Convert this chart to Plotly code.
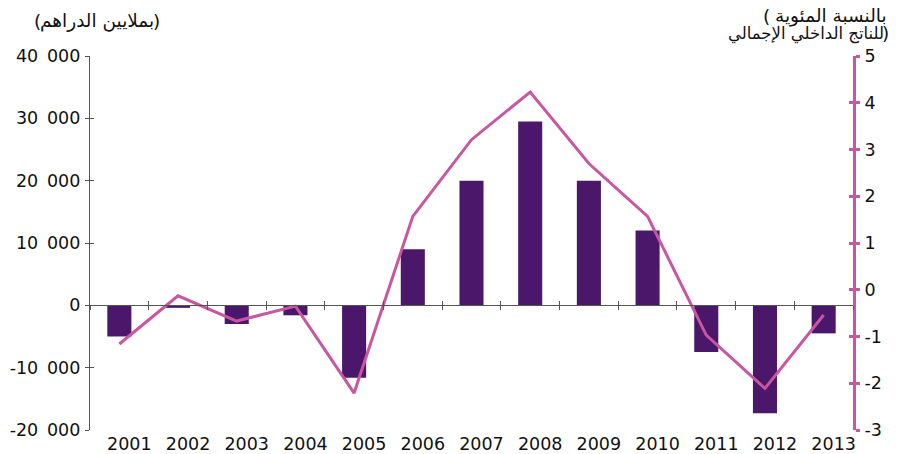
import plotly.graph_objects as go

years = ["2001", "2002", "2003", "2004", "2005", "2006", "2007",
         "2008", "2009", "2010", "2011", "2012", "2013"]
balance_mdh = [-5000, -400, -3000, -1600, -11600, 9000, 20000,
               29500, 20000, 12000, -7500, -17300, -4500]
balance_pct_gdp = [-1.16, -0.13, -0.67, -0.35, -2.21, 1.57, 3.21,
                   4.23, 2.70, 1.57, -0.97, -2.11, -0.54]

left_ticks = [-20000, -10000, 0, 10000, 20000, 30000, 40000]
left_ticktext = ["-20\u2002000", "-10\u2002000", "0", "10\u2002000",
                 "20\u2002000", "30\u2002000", "40\u2002000"]
right_ticks = [-3, -2, -1, 0, 1, 2, 3, 4, 5]
right_ticktext = ["-3", "-2", "-1", "0", "1", "2", "3", "4", "5"]

left_title = "بملايين الدراهم"
right_title_1 = "بالنسبة المئوية"
right_title_2 = "للناتج الداخلي الإجمالي"

BAR = "#4A176A"
PINK = "#C956A1"
AX = "#555555"
TXT = "#111111"
FONT = "DejaVu Sans"

# page body has an 8px margin: compensate
W, H = 901, 446
L, R, T, B = 82, 56, 48, 24
PX0, PX1, PY0, PY1 = 90, 853, 56, 430


def px(xp):
    return (xp - PX0) / (PX1 - PX0)


def py(yp):
    return (PY1 - yp) / (PY1 - PY0)


def note(text, x, y, xanchor, size):
    return dict(text=text, xref="paper", yref="paper", x=px(x), y=py(y),
                xanchor=xanchor, yanchor="middle", showarrow=False,
                font=dict(family=FONT, size=size, color=TXT))


fig = go.Figure()
fig.add_trace(go.Bar(x=years, y=balance_mdh, marker=dict(color=BAR, line=dict(width=0)),
                     width=0.41, xaxis="x", yaxis="y", showlegend=False))
fig.add_trace(go.Scatter(x=years, y=balance_pct_gdp, mode="lines",
                         line=dict(color=PINK, width=3), xaxis="x", yaxis="y2",
                         showlegend=False))
# empty helper traces so that the overlay axes (ticks / labels) get drawn
for xa, ya in [("x2", "y"), ("x3", "y"), ("x", "y3"), ("x", "y4")]:
    fig.add_trace(go.Scatter(x=[None], y=[None], xaxis=xa, yaxis=ya,
                             mode="markers", showlegend=False, hoverinfo="skip"))

n = len(years)
zero_pos = 20000 / 60000
label_shift = 0.17  # category labels sit slightly right of the bars

fig.update_layout(
    width=W, height=H,
    margin=dict(l=L, r=R, t=T, b=B),
    paper_bgcolor="white", plot_bgcolor="white",
    font=dict(family=FONT, size=17.5, color=TXT),
    # data axis: drawn as the zero line, ticks between categories
    xaxis=dict(type="category", categoryorder="array", categoryarray=years,
               range=[-0.5, n - 0.5], anchor="free", position=zero_pos,
               showline=True, linecolor=AX, linewidth=1.2,
               ticks="outside", tickson="boundaries", ticklen=4, tickcolor=AX,
               tickwidth=1.2, showticklabels=False, showgrid=False,
               zeroline=False),
    xaxis2=dict(overlaying="x", anchor="free", position=zero_pos, type="linear",
                range=[-0.5, n - 0.5], tick0=-0.5, dtick=1, showline=False,
                ticks="inside", ticklen=4, tickcolor=AX, tickwidth=1.2,
                showticklabels=False, showgrid=False, zeroline=False),
    # category labels at the bottom
    xaxis3=dict(overlaying="x", anchor="y", side="bottom", type="linear",
                range=[-0.5 - label_shift, n - 0.5 - label_shift],
                tickvals=list(range(n)), ticktext=years, showline=False,
                ticks="", showgrid=False, zeroline=False, automargin=False,
                ticklabelstandoff=1, tickfont=dict(size=17.5)),
    yaxis=dict(range=[-20000, 40000], tickvals=left_ticks, ticktext=left_ticktext,
               showline=True, linecolor=AX, linewidth=1.2, ticks="outside",
               ticklen=4, tickcolor=AX, tickwidth=1.2, showgrid=False,
               zeroline=False, automargin=False, ticklabelstandoff=1),
    yaxis3=dict(overlaying="y", side="left", range=[-20000, 40000],
                tickvals=left_ticks, showticklabels=False, showline=False,
                ticks="inside", ticklen=4, tickcolor=AX, tickwidth=1.2,
                showgrid=False, zeroline=False),
    yaxis2=dict(overlaying="y", side="right", range=[-3, 5], tickvals=right_ticks,
                ticktext=right_ticktext, showline=True, linecolor=PINK, linewidth=3,
                ticks="outside", ticklen=4, tickwidth=3, tickcolor=PINK,
                showgrid=False, zeroline=False, automargin=False,
                ticklabelstandoff=1),
    yaxis4=dict(overlaying="y", side="right", range=[-3, 5], tickvals=right_ticks,
                showticklabels=False, showline=False, ticks="inside", ticklen=4,
                tickwidth=3, tickcolor=PINK, showgrid=False, zeroline=False),
    annotations=[
        note("(", 32, 21, "left", 18.5),
        note(left_title, 97, 21, "center", 18.5),
        note(")", 162, 21, "right", 18.5),
        note("(", 761, 16, "left", 18.5),
        note(right_title_1, 831, 16, "center", 18.5),
        note(right_title_2, 806, 34, "center", 16.5),
        note(")", 891, 34, "right", 18.5),
    ],
)

fig.write_html("out.html")
